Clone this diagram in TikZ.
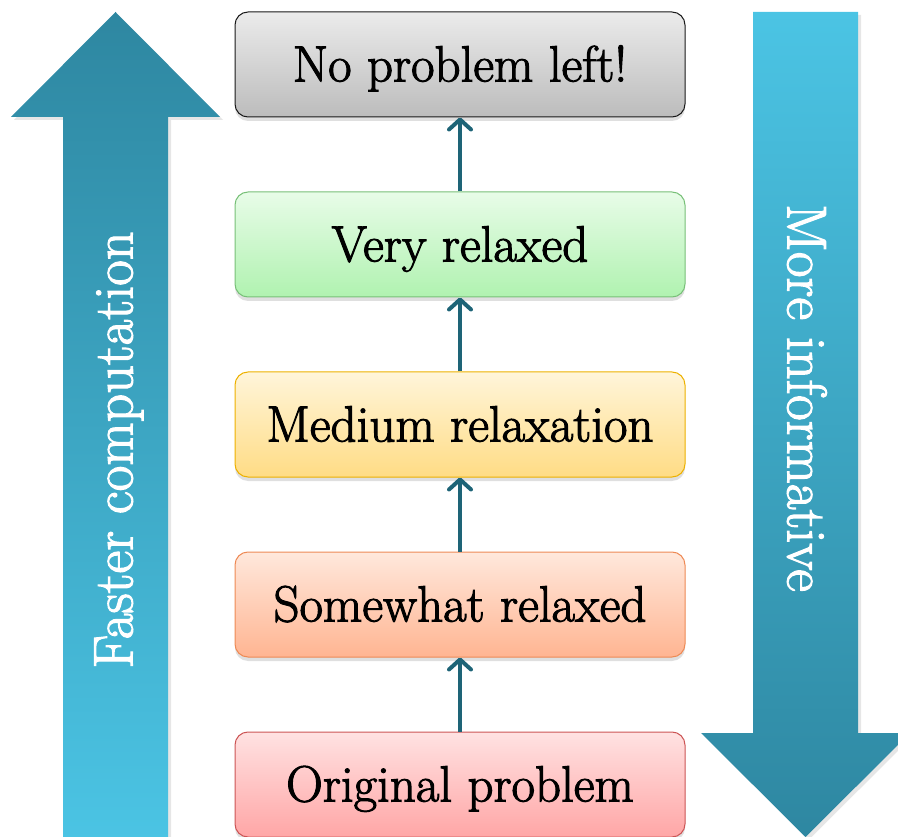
\documentclass[tikz,border=0pt]{standalone}
\usepackage{fontspec}
\usetikzlibrary{arrows.meta,shadows}
\newfontfamily\labelfont{Latin Modern Roman}[FakeBold=2]
\definecolor{tealdark}{HTML}{2E87A1}
\definecolor{teallight}{HTML}{4BC4E4}
\definecolor{conncol}{HTML}{1E6477}
\definecolor{grayTop}{HTML}{EBEBEB}
\definecolor{grayBot}{HTML}{BCBCBC}
\definecolor{grayLine}{HTML}{1A1A1A}
\definecolor{greenTop}{HTML}{E8FCE8}
\definecolor{greenBot}{HTML}{B0F2B0}
\definecolor{greenLine}{HTML}{78C078}
\definecolor{yellowTop}{HTML}{FFF5DA}
\definecolor{yellowBot}{HTML}{FFDC85}
\definecolor{yellowLine}{HTML}{EDB100}
\definecolor{peachTop}{HTML}{FFE8DC}
\definecolor{peachBot}{HTML}{FFB592}
\definecolor{peachLine}{HTML}{EE8A55}
\definecolor{pinkTop}{HTML}{FFE2E2}
\definecolor{pinkBot}{HTML}{FFA6A6}
\definecolor{pinkLine}{HTML}{CC5555}
\tikzset{
  levelbox/.style={rectangle, rounded corners=13pt, line width=1pt,
    minimum width=450pt, minimum height=105pt, inner sep=0pt,
    text height=34pt, text depth=0pt,
    font=\labelfont\fontsize{51}{55}\selectfont,
    drop shadow={shadow xshift=0pt, shadow yshift=-4pt, opacity=0.25}},
  graybox/.style={levelbox, draw=grayLine, top color=grayTop, bottom color=grayBot},
  greenbox/.style={levelbox, draw=greenLine, top color=greenTop, bottom color=greenBot},
  yellowbox/.style={levelbox, draw=yellowLine, top color=yellowTop, bottom color=yellowBot},
  peachbox/.style={levelbox, draw=peachLine, top color=peachTop, bottom color=peachBot},
  pinkbox/.style={levelbox, draw=pinkLine, top color=pinkTop, bottom color=pinkBot},
  conn/.style={draw=conncol, line width=4pt,
    -{Straight Barb[length=10pt,width=22pt,round]}},
  sidetext/.style={text=white, font=\labelfont\fontsize{56}{60}\selectfont,
    text height=37pt, text depth=0pt, inner sep=0pt},
  bigarrow/.style={drop shadow={shadow xshift=3pt, shadow yshift=-3pt, opacity=0.2}}
}
\begin{document}
\begin{tikzpicture}[x=1pt,y=-1pt]
\useasboundingbox (0,0) rectangle (898,837);

% upward arrow on the left
\path[bigarrow, top color=tealdark, bottom color=teallight]
  (63,840) -- (63,117) -- (11,117) -- (115.5,12) -- (220,117)
  -- (168,117) -- (168,840) -- cycle;
\node[sidetext, rotate=90] (faster) at (114,450) {Faster computation};

% downward arrow on the right
\path[bigarrow, top color=teallight, bottom color=tealdark]
  (753,12) -- (858,12) -- (858,733) -- (910,733) -- (805.5,837)
  -- (701,733) -- (753,733) -- cycle;
\node[sidetext, rotate=-90] (informative) at (806,398) {More informative};

% the levels of relaxation
\node[graybox]   (b1) at (460,64.5)  {No problem left!};
\node[greenbox]  (b2) at (460,244.5) {Very relaxed};
\node[yellowbox] (b3) at (460,424.5) {Medium relaxation};
\node[peachbox]  (b4) at (460,604.5) {Somewhat relaxed};
\node[pinkbox]   (b5) at (460,784.5) {Original problem};

\draw[conn] (b5.north) -- (b4.south);
\draw[conn] (b4.north) -- (b3.south);
\draw[conn] (b3.north) -- (b2.south);
\draw[conn] (b2.north) -- (b1.south);
\end{tikzpicture}
\end{document}
